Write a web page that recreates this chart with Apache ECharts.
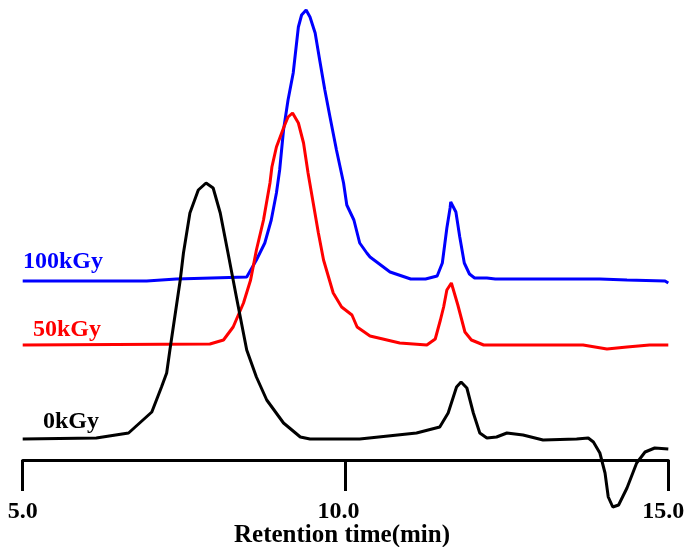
<!DOCTYPE html>
<html>
<head>
<meta charset="utf-8">
<script src="https://cdn.jsdelivr.net/npm/echarts@6/dist/echarts.min.js"></script>
<style>
html,body{margin:0;padding:0;background:#fff;}
#chart{width:686px;height:547px;}
</style>
</head>
<body>
<div id="chart"></div>
<script>
// Retention time (min) and detector response (arbitrary units)
const xTicks = [5.0, 10.0, 15.0];
const seriesNames = ['100kGy', '50kGy', '0kGy'];

const kGy0 = [
  [5.00, 21], [6.14, 22], [6.64, 27], [7.00, 48], [7.15, 73], [7.23, 87], [7.28, 110],
  [7.44, 180], [7.49, 207], [7.59, 247], [7.72, 270], [7.84, 277], [7.95, 272],
  [8.06, 247], [8.18, 207], [8.31, 163], [8.47, 110], [8.62, 83], [8.78, 60],
  [9.04, 37], [9.30, 23], [9.45, 21], [10.22, 21], [11.10, 27], [11.46, 33],
  [11.59, 47], [11.67, 63], [11.72, 73], [11.79, 78], [11.88, 72], [11.98, 47],
  [12.08, 27], [12.19, 22], [12.34, 23], [12.50, 27], [12.75, 25], [13.06, 20],
  [13.58, 21], [13.76, 22], [13.84, 18], [13.94, 7], [14.02, -13], [14.07, -37],
  [14.14, -47], [14.23, -45], [14.36, -28], [14.51, -3], [14.64, 8], [14.79, 12],
  [15.00, 11]
];

const kGy50 = [
  [5.00, 115], [7.90, 116], [8.11, 120], [8.26, 133], [8.42, 157], [8.53, 180],
  [8.62, 210], [8.73, 240], [8.83, 277], [8.86, 293], [8.93, 313], [9.04, 332],
  [9.11, 343], [9.18, 347], [9.27, 337], [9.35, 317], [9.42, 287], [9.50, 257],
  [9.58, 227], [9.66, 200], [9.81, 167], [9.94, 153], [10.10, 145], [10.18, 133],
  [10.38, 124], [10.84, 117], [11.26, 115], [11.39, 121], [11.47, 140], [11.52, 153],
  [11.57, 170], [11.64, 177], [11.74, 155], [11.85, 128], [11.95, 120], [12.14, 115],
  [13.68, 115], [14.05, 111], [14.36, 113], [14.71, 115], [15.00, 115]
];

const kGy100 = [
  [5.00, 179], [6.92, 179], [7.38, 181], [8.47, 183], [8.62, 200], [8.75, 217],
  [8.85, 240], [8.93, 267], [8.98, 290], [9.04, 330], [9.11, 360], [9.19, 387],
  [9.27, 433], [9.32, 445], [9.39, 450], [9.45, 443], [9.53, 427], [9.60, 400],
  [9.68, 370], [9.76, 343], [9.86, 310], [9.97, 277], [10.02, 255], [10.13, 240],
  [10.22, 217], [10.33, 207], [10.38, 203], [10.69, 188], [11.01, 181], [11.24, 181],
  [11.42, 184], [11.50, 197], [11.57, 232], [11.62, 252], [11.63, 258], [11.71, 248],
  [11.77, 223], [11.84, 197], [11.92, 186], [12.00, 182], [12.19, 182], [12.32, 181],
  [13.94, 181], [14.36, 180], [14.95, 179], [15.00, 177]
];

const font = '"Liberation Serif", "Times New Roman", serif';
const chart = echarts.init(document.getElementById('chart'), null, {renderer: 'canvas'});

function mkSeries(name, data, color) {
  return {
    name: name, type: 'line', data: data, showSymbol: false, symbol: 'none',
    smooth: false, clip: false, lineStyle: {color: color, width: 3}, itemStyle: {color: color},
    animation: false, z: 3
  };
}

const lblBase = {color: '#000', fontFamily: font, fontWeight: 'bold', fontSize: 24};

chart.setOption({
  animation: false,
  backgroundColor: '#fff',
  grid: {left: 22.7, right: 17.7, top: 0, bottom: 87, containLabel: false, outerBoundsMode: 'none'},
  xAxis: {
    type: 'value', min: 5, max: 15, interval: 5,
    axisLine: {show: true, onZero: false, lineStyle: {color: '#000', width: 3}},
    axisTick: {show: true, length: 31, lineStyle: {color: '#000', width: 3}},
    splitLine: {show: false},
    axisLabel: {
      margin: 40, color: '#000', fontFamily: font, fontWeight: 'bold', fontSize: 24,
      formatter: function (v) {
        const i = xTicks.indexOf(v);
        if (i < 0) return '';
        const key = ['a', 'b', 'c'][i];
        return '{' + key + '|' + v.toFixed(1) + '}';
      },
      rich: {
        a: Object.assign({}, lblBase),
        b: Object.assign({padding: [0, 14, 0, 0]}, lblBase),
        c: Object.assign({padding: [0, 10, 0, 0]}, lblBase)
      }
    },
    name: 'Retention time(min)', nameLocation: 'middle', nameGap: 63, nameMoveOverlap: false,
    nameTextStyle: {color: '#000', fontFamily: font, fontWeight: 'bold', fontSize: 25, padding: [0, 7, 0, 0]}
  },
  yAxis: {
    type: 'value', min: 0, max: 460, show: false, splitLine: {show: false}
  },
  graphic: [
    {type: 'text', left: 23, top: 250, style: {text: seriesNames[0], fill: '#0000ff', font: 'bold 24px ' + font}},
    {type: 'text', left: 33, top: 318, style: {text: seriesNames[1], fill: '#ff0000', font: 'bold 24px ' + font}},
    {type: 'text', left: 43, top: 410, style: {text: seriesNames[2], fill: '#000000', font: 'bold 24px ' + font}}
  ],
  series: [
    mkSeries(seriesNames[0], kGy100, '#0000ff'),
    mkSeries(seriesNames[1], kGy50, '#ff0000'),
    mkSeries(seriesNames[2], kGy0, '#000000')
  ]
});
</script>
</body>
</html>
